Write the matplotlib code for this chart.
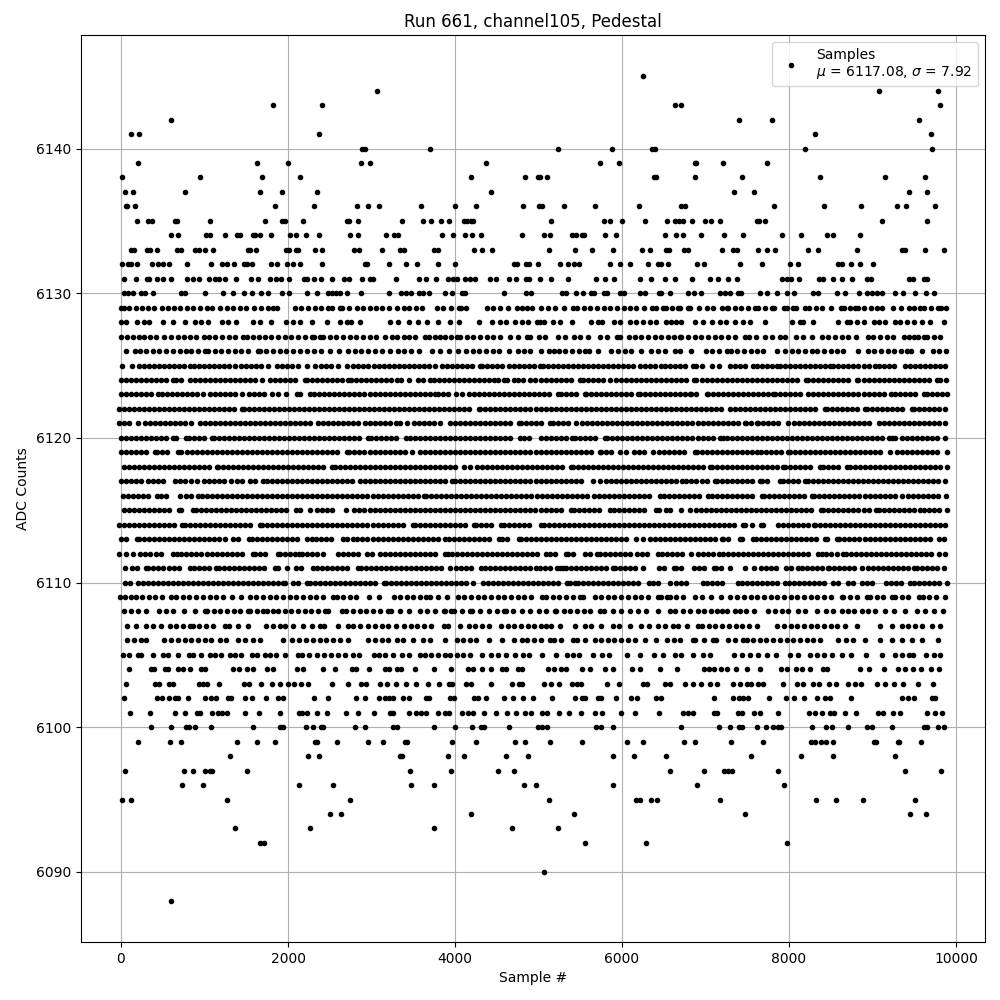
import matplotlib
matplotlib.use("Agg")
import matplotlib.pyplot as plt

title = "Run 661, channel105, Pedestal"
xlabel = "Sample #"
ylabel = "ADC Counts"
legend_label = "Samples\n$\\mu$ = 6117.08, $\\sigma$ = 7.92"

s6145 = [6252]
s6144 = [3068, 9072, 9780]
s6143 = [1820, 2408, 6636, 6708, 9804]
s6142 = [596, 7404, 7800, 9552]
s6141 = [116, 212, 2372, 8316, 9696]
s6140 = [2888, 2920, 3704, 5232, 5880, 6360, 6396, 8196, 9708]
s6139 = [200, 1628, 2000, 2876, 2984, 4376, 5736, 5964, 6876, 6888, 7212, 7740]
s6138 = [8, 944, 1688, 2144, 4196, 4844, 4988, 5016, 5100, 6384, 6408, 6876, 7440, 8376, 9144, 9624]
s6137 = [44, 140, 764, 1664, 1928, 2348, 4436, 7344, 7584, 9432, 9648]
s6136 = [56, 76, 164, 1844, 2312, 2828, 2960, 3092, 3596, 4004, 4256, 4820, 5004, 5040, 5304, 5676, 6204, 6708, 6756, 7824, 8424, 8868, 9288, 9396, 9744]
s6135 = [188, 320, 368, 644, 668, 1064, 1724, 1928, 1964, 2180, 2708, 2732, 2840, 3368, 3620, 3716, 3836, 3932, 4112, 4148, 4196, 4220, 5148, 5784, 5856, 6000, 6276, 6540, 6636, 6684, 6732, 6840, 6996, 7068, 7176, 7620, 7644, 7716, 9108, 9648]
s6134 = [596, 680, 1016, 1064, 1244, 1388, 1420, 1580, 1604, 1664, 1796, 2024, 2096, 2216, 2372, 2744, 2840, 3176, 3272, 3320, 3848, 3980, 4124, 4208, 4316, 4808, 5064, 5136, 5400, 5448, 5520, 5544, 5796, 5928, 6516, 6648, 6732, 6948, 7224, 7452, 7920, 8148, 8460, 8532, 8856]
s6133 = [116, 152, 308, 344, 428, 668, 716, 884, 932, 1004, 1100, 1520, 1544, 1616, 1976, 2012, 2096, 2120, 2324, 2408, 2792, 2852, 3128, 3344, 3392, 3752, 3800, 4232, 4328, 4448, 5124, 5436, 5640, 5892, 6240, 6336, 6528, 6564, 6744, 6792, 7200, 7332, 7380, 7632, 7740, 7836, 8232, 8352, 8820, 9348, 9384, 9624, 9852]
s6132 = [8, 80, 116, 188, 368, 440, 500, 572, 788, 1076, 1208, 1268, 1352, 1472, 1508, 1568, 1796, 1868, 1988, 2060, 2140, 2408, 2924, 2948, 3212, 3416, 3548, 3800, 4004, 4712, 4740, 4856, 4892, 4992, 5256, 5352, 5424, 5484, 5856, 5976, 6096, 6312, 6432, 6468, 6552, 6900, 6984, 7416, 7680, 8016, 8112, 8592, 8640, 8748, 8856, 9000]
s6131 = [32, 176, 308, 332, 428, 500, 596, 788, 860, 940, 1052, 1124, 1172, 1244, 1376, 1556, 1640, 1784, 1856, 1916, 2012, 2192, 2228, 2312, 2396, 2528, 2672, 2732, 2888, 2984, 3012, 3296, 3572, 3656, 3776, 3920, 3980, 4028, 4124, 4180, 4244, 4424, 4496, 4652, 4736, 4856, 4892, 5016, 5148, 5352, 5688, 5796, 5904, 6216, 6348, 6516, 6636, 6840, 7056, 7152, 7272, 7380, 7920, 7980, 8028, 8124, 8364, 8412, 8532, 8640, 8760, 8928, 8976, 9432, 9480, 9612, 9648]
s6130 = [32, 80, 140, 236, 284, 380, 716, 764, 1004, 1220, 1340, 1472, 1568, 1676, 1760, 1928, 2012, 2228, 2348, 2480, 2528, 2576, 2624, 2708, 2876, 3212, 3356, 3416, 3476, 3572, 3620, 3692, 3884, 3968, 4088, 4124, 4592, 4856, 4916, 5280, 5328, 5448, 5532, 5628, 5664, 5784, 5820, 5976, 6024, 6216, 6276, 6444, 6468, 6576, 6792, 6864, 6948, 7176, 7236, 7296, 7392, 7428, 7656, 7740, 7860, 7980, 8064, 8292, 8352, 8580, 8676, 8844, 8928, 8988, 9048, 9108, 9264, 9360, 9504, 9636, 9732]
s6129 = [0, 40, 96, 184, 250, 320, 400, 496, 564, 640, 710, 790, 860, 950, 1024, 1084, 1184, 1264, 1340, 1420, 1500, 1590, 1680, 1764, 1816, 1864, 2084, 2160, 2240, 2320, 2400, 2484, 2524, 2624, 2652, 2728, 2824, 2900, 2980, 3050, 3130, 3210, 3300, 3384, 3452, 3530, 3604, 3784, 3860, 3950, 4044, 4072, 4136, 4384, 4460, 4540, 4640, 4744, 4804, 4864, 4924, 5024, 5110, 5200, 5300, 5412, 5460, 5540, 5620, 5700, 5780, 5860, 5940, 6020, 6100, 6164, 6260, 6364, 6412, 6492, 6532, 6600, 6672, 6692, 6792, 6812, 6924, 7012, 7092, 7192, 7252, 7272, 7350, 7430, 7510, 7592, 7632, 7710, 7792, 7824, 7940, 7972, 8052, 8084, 8192, 8244, 8320, 8400, 8500, 8620, 8660, 8730, 8792, 8832, 8900, 8980, 9050, 9112, 9244, 9340, 9432, 9500, 9572, 9620, 9700, 9780, 9824, 9884]
s6128 = [0, 60, 192, 280, 340, 504, 624, 768, 884, 960, 1044, 1204, 1284, 1376, 1576, 1660, 1800, 1972, 2060, 2144, 2288, 2464, 2624, 2704, 2760, 2860, 3216, 3312, 3444, 3560, 3664, 3792, 3944, 4052, 4288, 4444, 4540, 4608, 4724, 4800, 4880, 4980, 5020, 5060, 5172, 5260, 5400, 5632, 5712, 5764, 5900, 5980, 6092, 6170, 6250, 6330, 6410, 6532, 6592, 6650, 6712, 6872, 6972, 7072, 7172, 7240, 7352, 7452, 7532, 7716, 8032, 8132, 8172, 8284, 8592, 8692, 8732, 8810, 8892, 9012, 9072, 9152, 9272, 9332, 9412, 9492, 9592, 9692, 9852]
s6127 = [0, 70, 140, 210, 280, 350, 416, 512, 604, 680, 760, 830, 904, 992, 1056, 1130, 1210, 1290, 1370, 1464, 1504, 1580, 1650, 1720, 1800, 1880, 1960, 2040, 2120, 2200, 2284, 2312, 2384, 2424, 2500, 2580, 2660, 2740, 2820, 2900, 2980, 3056, 3164, 3240, 3310, 3384, 3444, 3520, 3644, 3684, 3760, 3824, 3884, 3950, 4024, 4064, 4140, 4220, 4300, 4380, 4460, 4540, 4664, 4752, 4864, 4904, 5004, 5072, 5232, 5320, 5420, 5492, 5592, 5740, 5820, 5940, 5980, 6084, 6152, 6230, 6310, 6390, 6470, 6550, 6620, 6692, 6712, 6790, 6870, 6950, 7030, 7110, 7190, 7270, 7350, 7472, 7520, 7600, 7712, 7792, 7892, 7952, 8080, 8172, 8280, 8392, 8470, 8550, 8630, 8710, 8804, 8940, 9010, 9090, 9170, 9250, 9372, 9432, 9492, 9550, 9612, 9652, 9732, 9804]
s6126 = [64, 164, 224, 300, 380, 460, 540, 620, 704, 784, 844, 924, 1004, 1044, 1120, 1200, 1280, 1360, 1440, 1520, 1644, 1664, 1740, 1820, 1900, 1976, 2064, 2140, 2224, 2312, 2392, 2504, 2608, 2724, 2800, 2880, 2960, 3040, 3120, 3224, 3312, 3390, 3470, 3564, 3724, 3820, 3924, 4036, 4136, 4210, 4290, 4370, 4450, 4530, 4644, 4752, 4824, 4900, 5024, 5124, 5180, 5244, 5320, 5400, 5480, 5552, 5604, 5712, 5872, 5950, 6030, 6110, 6224, 6352, 6430, 6510, 6632, 6692, 6824, 7000, 7080, 7160, 7252, 7304, 7380, 7460, 7540, 7620, 7692, 7860, 7952, 8030, 8110, 8190, 8272, 8340, 8420, 8500, 8580, 8652, 8828, 8940, 9020, 9100, 9180, 9260, 9340, 9412, 9460, 9592, 9724, 9800, 9884]
s6125 = [16, 132, 216, 276, 336, 396, 456, 516, 576, 636, 696, 756, 824, 872, 932, 992, 1052, 1112, 1172, 1232, 1292, 1364, 1432, 1492, 1552, 1612, 1672, 1764, 1872, 1932, 1992, 2052, 2124, 2232, 2324, 2392, 2452, 2512, 2604, 2704, 2784, 2844, 2904, 2964, 3024, 3084, 3144, 3204, 3264, 3324, 3384, 3444, 3504, 3564, 3624, 3684, 3764, 3844, 3904, 3964, 4024, 4084, 4144, 4204, 4304, 4324, 4384, 4444, 4504, 4564, 4644, 4704, 4764, 4824, 4884, 4944, 5012, 5052, 5112, 5172, 5232, 5292, 5352, 5412, 5472, 5532, 5592, 5652, 5712, 5772, 5832, 5892, 5952, 6012, 6072, 6132, 6212, 6272, 6332, 6392, 6472, 6512, 6572, 6632, 6692, 6752, 6852, 6892, 6952, 7072, 7156, 7292, 7352, 7412, 7472, 7572, 7612, 7672, 7732, 7792, 7860, 7892, 7952, 8012, 8072, 8132, 8192, 8252, 8312, 8372, 8432, 8492, 8532, 8592, 8652, 8712, 8772, 8832, 8892, 8952, 9032, 9072, 9132, 9192, 9252, 9392, 9452, 9512, 9572, 9632, 9692, 9752, 9812, 9872]
s6124 = [0, 60, 120, 180, 240, 300, 360, 420, 480, 540, 624, 664, 724, 824, 884, 944, 1004, 1064, 1124, 1184, 1244, 1304, 1364, 1424, 1484, 1544, 1604, 1684, 1784, 1844, 1904, 1964, 2024, 2084, 2204, 2224, 2284, 2344, 2404, 2464, 2524, 2584, 2644, 2724, 2752, 2812, 2872, 2932, 2992, 3052, 3112, 3172, 3232, 3304, 3352, 3452, 3552, 3612, 3696, 3744, 3804, 3864, 3924, 3984, 4044, 4104, 4164, 4224, 4284, 4344, 4404, 4464, 4512, 4584, 4624, 4712, 4752, 4812, 4904, 4952, 5032, 5092, 5152, 5212, 5272, 5332, 5392, 5492, 5532, 5592, 5652, 5712, 5772, 5852, 5924, 5992, 6052, 6112, 6172, 6232, 6292, 6352, 6412, 6472, 6532, 6592, 6652, 6712, 6772, 6860, 6892, 6952, 7012, 7072, 7132, 7192, 7252, 7312, 7372, 7432, 7492, 7552, 7612, 7680, 7740, 7800, 7860, 7920, 7980, 8040, 8100, 8204, 8232, 8292, 8352, 8412, 8472, 8532, 8592, 8652, 8712, 8812, 8832, 8892, 8952, 9012, 9072, 9132, 9192, 9252, 9312, 9372, 9432, 9492, 9552, 9612, 9672, 9772, 9804, 9884]
s6123 = [0, 60, 120, 180, 240, 300, 360, 444, 492, 552, 612, 672, 732, 792, 852, 912, 984, 1064, 1124, 1184, 1244, 1304, 1364, 1444, 1536, 1596, 1656, 1716, 1804, 1884, 1972, 2104, 2144, 2264, 2312, 2376, 2436, 2496, 2556, 2616, 2676, 2736, 2796, 2856, 2916, 2976, 3036, 3096, 3156, 3216, 3276, 3336, 3396, 3456, 3516, 3576, 3636, 3696, 3764, 3792, 3852, 3912, 4016, 4088, 4164, 4224, 4284, 4344, 4404, 4464, 4524, 4584, 4644, 4704, 4764, 4824, 4884, 4944, 5004, 5064, 5124, 5232, 5268, 5324, 5384, 5444, 5552, 5564, 5624, 5684, 5744, 5804, 5864, 5924, 5984, 6044, 6104, 6192, 6212, 6272, 6332, 6392, 6452, 6512, 6572, 6632, 6692, 6752, 6812, 6832, 6892, 7012, 7032, 7092, 7152, 7212, 7272, 7332, 7392, 7452, 7512, 7572, 7632, 7692, 7752, 7812, 7832, 7892, 7952, 8012, 8072, 8132, 8232, 8292, 8352, 8412, 8472, 8532, 8592, 8652, 8712, 8772, 8832, 8892, 8952, 9012, 9072, 9132, 9220, 9272, 9332, 9392, 9452, 9512, 9612, 9652, 9712, 9772, 9832, 9892]
s6122 = [-24, 36, 96, 156, 216, 276, 336, 396, 456, 516, 576, 636, 696, 756, 816, 876, 936, 996, 1056, 1116, 1176, 1236, 1296, 1356, 1444, 1472, 1532, 1592, 1652, 1712, 1772, 1832, 1892, 1952, 2012, 2072, 2132, 2192, 2252, 2312, 2372, 2432, 2492, 2552, 2612, 2672, 2732, 2792, 2852, 2912, 2972, 3032, 3092, 3152, 3212, 3272, 3332, 3392, 3452, 3512, 3572, 3632, 3692, 3752, 3812, 3872, 3932, 3992, 4052, 4112, 4172, 4284, 4304, 4364, 4424, 4484, 4544, 4604, 4664, 4724, 4784, 4844, 4904, 4964, 5024, 5084, 5144, 5204, 5264, 5324, 5384, 5444, 5504, 5564, 5624, 5684, 5744, 5804, 5864, 5924, 5984, 6044, 6104, 6164, 6224, 6284, 6344, 6404, 6464, 6524, 6584, 6644, 6704, 6764, 6824, 6884, 6944, 7004, 7064, 7124, 7184, 7292, 7352, 7412, 7472, 7532, 7592, 7652, 7712, 7772, 7832, 7892, 7952, 8012, 8072, 8132, 8192, 8252, 8312, 8432, 8460, 8520, 8580, 8640, 8700, 8760, 8820, 8912, 8932, 8992, 9052, 9112, 9172, 9232, 9292, 9352, 9472, 9500, 9560, 9620, 9680, 9740, 9800, 9872]
s6121 = [-24, 36, 96, 204, 284, 344, 404, 464, 524, 584, 644, 704, 764, 836, 944, 1004, 1064, 1124, 1184, 1244, 1304, 1364, 1424, 1484, 1544, 1604, 1664, 1724, 1784, 1844, 1904, 1964, 2024, 2084, 2144, 2204, 2264, 2364, 2424, 2484, 2544, 2604, 2664, 2724, 2784, 2844, 2924, 2976, 3036, 3096, 3156, 3216, 3296, 3344, 3424, 3504, 3564, 3624, 3684, 3744, 3824, 3944, 4004, 4064, 4124, 4184, 4244, 4304, 4364, 4424, 4484, 4544, 4604, 4664, 4764, 4792, 4852, 4912, 4972, 5032, 5132, 5172, 5232, 5292, 5352, 5444, 5524, 5584, 5644, 5704, 5764, 5824, 5884, 5944, 6004, 6064, 6124, 6184, 6244, 6304, 6364, 6424, 6484, 6544, 6604, 6664, 6724, 6784, 6844, 6904, 6964, 7024, 7084, 7144, 7204, 7264, 7324, 7384, 7472, 7484, 7544, 7612, 7632, 7692, 7752, 7812, 7872, 7992, 8060, 8120, 8180, 8240, 8300, 8360, 8420, 8480, 8540, 8600, 8660, 8720, 8780, 8840, 8900, 8960, 9072, 9140, 9200, 9260, 9320, 9380, 9440, 9500, 9560, 9620, 9680, 9740, 9800, 9872]
s6120 = [0, 60, 120, 180, 240, 300, 360, 420, 480, 540, 624, 656, 776, 812, 872, 932, 992, 1084, 1112, 1172, 1232, 1292, 1352, 1412, 1472, 1532, 1592, 1652, 1712, 1772, 1832, 1892, 1952, 2012, 2072, 2132, 2192, 2252, 2312, 2372, 2432, 2492, 2552, 2612, 2672, 2732, 2792, 2852, 2964, 2992, 3052, 3112, 3172, 3232, 3292, 3412, 3464, 3524, 3584, 3644, 3704, 3764, 3824, 3884, 3944, 4004, 4064, 4124, 4184, 4244, 4304, 4364, 4424, 4484, 4544, 4604, 4664, 4776, 4824, 4884, 5024, 5084, 5144, 5204, 5264, 5324, 5404, 5440, 5500, 5560, 5620, 5680, 5792, 5824, 5884, 5944, 6004, 6064, 6124, 6184, 6244, 6304, 6364, 6424, 6484, 6544, 6604, 6664, 6724, 6784, 6844, 6904, 6964, 7024, 7084, 7172, 7204, 7252, 7312, 7372, 7432, 7492, 7552, 7612, 7672, 7732, 7792, 7852, 7912, 7972, 8032, 8092, 8152, 8212, 8272, 8332, 8392, 8452, 8512, 8572, 8632, 8692, 8752, 8812, 8872, 8932, 8992, 9052, 9112, 9192, 9232, 9272, 9352, 9412, 9472, 9532, 9592, 9652, 9712, 9772, 9872]
s6119 = [0, 60, 120, 180, 240, 300, 404, 432, 492, 552, 684, 724, 792, 852, 912, 972, 1032, 1092, 1152, 1212, 1272, 1332, 1392, 1452, 1512, 1572, 1632, 1692, 1752, 1812, 1872, 1932, 1992, 2052, 2112, 2172, 2232, 2292, 2352, 2412, 2472, 2532, 2592, 2704, 2736, 2796, 2856, 2916, 2976, 3036, 3096, 3156, 3216, 3276, 3336, 3396, 3484, 3584, 3644, 3704, 3764, 3824, 3884, 3944, 4004, 4064, 4124, 4184, 4244, 4304, 4364, 4424, 4484, 4544, 4604, 4664, 4724, 4784, 4844, 4904, 4964, 5024, 5084, 5144, 5204, 5264, 5324, 5384, 5444, 5504, 5564, 5624, 5732, 5752, 5812, 5872, 5972, 6044, 6144, 6204, 6264, 6372, 6444, 6504, 6564, 6624, 6684, 6744, 6872, 6900, 6960, 7020, 7080, 7140, 7200, 7260, 7320, 7380, 7440, 7500, 7560, 7620, 7660, 7720, 7780, 7840, 7900, 7992, 8012, 8072, 8132, 8192, 8252, 8312, 8372, 8432, 8492, 8552, 8612, 8672, 8732, 8792, 8852, 8912, 8972, 9032, 9092, 9212, 9292, 9352, 9412, 9472, 9532, 9592, 9652, 9712, 9772, 9892]
s6118 = [32, 92, 152, 212, 272, 332, 392, 452, 512, 572, 632, 692, 752, 812, 872, 932, 992, 1052, 1144, 1164, 1224, 1284, 1344, 1404, 1464, 1524, 1584, 1644, 1704, 1764, 1824, 1884, 1944, 2004, 2064, 2124, 2184, 2244, 2304, 2364, 2424, 2524, 2564, 2624, 2684, 2744, 2804, 2864, 2924, 2984, 3044, 3104, 3164, 3224, 3284, 3344, 3404, 3464, 3524, 3584, 3644, 3704, 3764, 3824, 3884, 3944, 4004, 4112, 4184, 4264, 4324, 4384, 4444, 4504, 4564, 4624, 4684, 4744, 4804, 4864, 4924, 4984, 5044, 5104, 5164, 5224, 5284, 5392, 5412, 5472, 5532, 5592, 5652, 5712, 5772, 5832, 5892, 5952, 6012, 6072, 6132, 6192, 6252, 6312, 6372, 6432, 6492, 6552, 6612, 6672, 6732, 6792, 6852, 6912, 6972, 7052, 7072, 7132, 7192, 7252, 7312, 7372, 7432, 7492, 7552, 7612, 7672, 7732, 7792, 7852, 7932, 7952, 8012, 8072, 8132, 8192, 8252, 8372, 8404, 8464, 8524, 8584, 8692, 8732, 8792, 8852, 8912, 8972, 9032, 9092, 9152, 9212, 9272, 9332, 9392, 9452, 9512, 9572, 9632, 9692, 9752, 9812, 9892]
s6117 = [4, 64, 124, 184, 244, 324, 384, 444, 504, 644, 704, 764, 844, 912, 992, 1052, 1112, 1172, 1232, 1312, 1384, 1444, 1544, 1604, 1704, 1752, 1812, 1872, 1932, 1992, 2052, 2112, 2172, 2232, 2292, 2352, 2412, 2472, 2532, 2592, 2652, 2712, 2772, 2864, 2924, 2984, 3044, 3104, 3164, 3224, 3284, 3344, 3404, 3464, 3524, 3584, 3644, 3704, 3764, 3824, 3884, 3964, 4004, 4064, 4124, 4184, 4244, 4304, 4364, 4424, 4484, 4544, 4604, 4664, 4724, 4784, 4844, 4904, 4964, 5024, 5084, 5144, 5204, 5264, 5324, 5384, 5444, 5504, 5652, 5732, 5812, 5872, 5932, 5992, 6052, 6112, 6172, 6232, 6292, 6352, 6412, 6472, 6532, 6592, 6652, 6724, 6772, 6832, 6892, 6952, 7012, 7112, 7132, 7192, 7252, 7312, 7372, 7432, 7492, 7552, 7652, 7680, 7740, 7892, 7932, 7992, 8052, 8112, 8192, 8224, 8284, 8344, 8404, 8464, 8524, 8584, 8644, 8704, 8764, 8824, 8884, 8944, 9004, 9064, 9124, 9184, 9244, 9304, 9364, 9424, 9484, 9544, 9604, 9664, 9724, 9784, 9864]
s6116 = [24, 84, 144, 204, 264, 324, 432, 484, 544, 704, 776, 836, 924, 972, 1032, 1092, 1152, 1212, 1272, 1332, 1392, 1452, 1512, 1572, 1632, 1692, 1752, 1812, 1872, 1932, 1992, 2052, 2112, 2172, 2232, 2292, 2352, 2412, 2472, 2532, 2592, 2652, 2712, 2772, 2832, 2892, 2952, 3012, 3072, 3132, 3192, 3252, 3312, 3372, 3432, 3492, 3552, 3624, 3656, 3716, 3776, 3836, 3896, 3956, 4016, 4076, 4136, 4196, 4256, 4316, 4376, 4436, 4496, 4556, 4616, 4676, 4736, 4796, 4856, 4916, 4976, 5036, 5096, 5156, 5216, 5276, 5336, 5396, 5456, 5516, 5576, 5660, 5724, 5784, 5844, 5904, 5964, 6024, 6084, 6144, 6204, 6264, 6324, 6460, 6504, 6564, 6624, 6684, 6744, 6804, 6864, 6924, 7032, 7072, 7132, 7192, 7252, 7312, 7372, 7432, 7492, 7552, 7672, 7704, 7764, 7824, 7884, 7944, 8004, 8064, 8124, 8184, 8272, 8304, 8364, 8424, 8484, 8544, 8604, 8664, 8724, 8784, 8844, 8904, 8964, 9024, 9084, 9144, 9204, 9264, 9352, 9420, 9480, 9540, 9600, 9660, 9720, 9780, 9884]
s6115 = [32, 92, 152, 212, 272, 332, 392, 452, 512, 572, 696, 724, 864, 896, 956, 1016, 1076, 1136, 1196, 1256, 1316, 1376, 1436, 1496, 1556, 1616, 1676, 1736, 1796, 1856, 1916, 1976, 2096, 2144, 2264, 2344, 2404, 2464, 2524, 2696, 2792, 2856, 2916, 2976, 3036, 3096, 3156, 3216, 3276, 3336, 3396, 3456, 3516, 3576, 3636, 3696, 3756, 3816, 3876, 3936, 3996, 4056, 4116, 4176, 4236, 4296, 4356, 4416, 4476, 4536, 4596, 4656, 4716, 4776, 4836, 4896, 4956, 5024, 5084, 5144, 5204, 5264, 5392, 5420, 5480, 5540, 5600, 5660, 5720, 5852, 5900, 5960, 6020, 6080, 6140, 6200, 6260, 6412, 6444, 6532, 6572, 6712, 6812, 6884, 6944, 7004, 7064, 7124, 7184, 7244, 7304, 7364, 7424, 7484, 7544, 7604, 7664, 7724, 7784, 7844, 7904, 7964, 8024, 8084, 8144, 8204, 8264, 8380, 8412, 8472, 8532, 8592, 8652, 8712, 8772, 8832, 8892, 8952, 9040, 9072, 9132, 9192, 9252, 9312, 9372, 9432, 9492, 9572, 9612, 9672, 9732, 9792, 9892]
s6114 = [-24, 36, 96, 156, 216, 276, 336, 396, 456, 516, 576, 636, 736, 768, 828, 888, 948, 1008, 1068, 1128, 1188, 1248, 1308, 1368, 1428, 1488, 1548, 1664, 1692, 1752, 1812, 1872, 1932, 1992, 2052, 2112, 2172, 2232, 2292, 2352, 2412, 2472, 2532, 2592, 2652, 2712, 2772, 2832, 2892, 2952, 3012, 3072, 3132, 3192, 3252, 3312, 3372, 3496, 3524, 3584, 3644, 3704, 3764, 3824, 3884, 3944, 4004, 4064, 4124, 4232, 4256, 4316, 4376, 4436, 4552, 4584, 4644, 4704, 4764, 4824, 4884, 5032, 5060, 5120, 5180, 5240, 5300, 5360, 5420, 5480, 5540, 5600, 5660, 5720, 5780, 5840, 5900, 5960, 6020, 6080, 6140, 6200, 6260, 6320, 6380, 6440, 6500, 6560, 6620, 6680, 6740, 6800, 6860, 6920, 6980, 7040, 7100, 7160, 7220, 7280, 7340, 7452, 7472, 7560, 7660, 7692, 7872, 7932, 7984, 8044, 8104, 8164, 8224, 8300, 8312, 8372, 8432, 8492, 8552, 8612, 8672, 8732, 8792, 8852, 8912, 8972, 9032, 9092, 9152, 9212, 9272, 9332, 9392, 9452, 9512, 9572, 9632, 9692, 9752, 9812, 9872]
s6113 = [0, 60, 192, 216, 276, 336, 396, 456, 516, 576, 636, 696, 756, 816, 876, 936, 996, 1056, 1116, 1176, 1244, 1344, 1404, 1532, 1564, 1624, 1684, 1744, 1804, 1864, 1924, 1984, 2044, 2104, 2224, 2292, 2336, 2396, 2456, 2516, 2664, 2704, 2784, 2832, 2892, 2952, 3012, 3072, 3132, 3192, 3252, 3312, 3372, 3432, 3492, 3552, 3612, 3672, 3732, 3792, 3876, 3924, 3984, 4044, 4104, 4164, 4224, 4284, 4344, 4404, 4524, 4564, 4624, 4764, 4792, 4852, 4912, 4972, 5032, 5092, 5152, 5212, 5272, 5332, 5392, 5452, 5512, 5572, 5632, 5692, 5752, 5812, 5872, 5932, 5992, 6052, 6172, 6252, 6332, 6392, 6452, 6512, 6572, 6632, 6692, 6752, 6812, 6872, 6932, 6992, 7052, 7112, 7192, 7212, 7272, 7412, 7432, 7572, 7600, 7660, 7720, 7780, 7840, 7900, 7960, 8020, 8080, 8140, 8200, 8260, 8320, 8432, 8452, 8572, 8604, 8664, 8724, 8784, 8844, 8904, 8964, 9024, 9084, 9144, 9204, 9264, 9324, 9384, 9444, 9504, 9564, 9624, 9684, 9792, 9852]
s6112 = [-24, 64, 144, 224, 284, 352, 424, 484, 624, 672, 724, 784, 844, 904, 964, 1024, 1084, 1144, 1204, 1264, 1324, 1384, 1444, 1576, 1604, 1664, 1724, 1884, 1904, 1964, 2024, 2084, 2136, 2164, 2224, 2284, 2344, 2424, 2604, 2664, 2724, 2784, 2844, 2944, 3004, 3096, 3164, 3224, 3284, 3344, 3404, 3464, 3524, 3584, 3644, 3704, 3764, 3884, 3912, 3964, 4024, 4084, 4144, 4204, 4264, 4324, 4384, 4444, 4504, 4564, 4624, 4684, 4744, 4804, 4864, 4924, 4984, 5084, 5132, 5192, 5324, 5352, 5412, 5552, 5620, 5700, 5732, 5792, 5852, 5912, 5972, 6032, 6092, 6180, 6244, 6304, 6432, 6480, 6540, 6600, 6660, 6720, 6832, 6904, 6964, 7024, 7092, 7164, 7212, 7272, 7332, 7392, 7452, 7512, 7572, 7632, 7692, 7752, 7812, 7872, 7932, 7992, 8052, 8112, 8172, 8232, 8352, 8392, 8444, 8504, 8580, 8644, 8684, 8744, 8804, 8864, 8924, 8984, 9044, 9104, 9164, 9224, 9284, 9344, 9404, 9464, 9524, 9584, 9644, 9704, 9792, 9864]
s6111 = [52, 136, 196, 296, 324, 384, 444, 504, 576, 636, 696, 824, 872, 932, 992, 1052, 1136, 1168, 1228, 1288, 1348, 1408, 1468, 1528, 1588, 1648, 1708, 1844, 1884, 1992, 2096, 2156, 2304, 2344, 2404, 2464, 2524, 2584, 2644, 2704, 2844, 2872, 2932, 2992, 3052, 3112, 3172, 3232, 3292, 3352, 3412, 3472, 3532, 3592, 3652, 3712, 3772, 3832, 3936, 4016, 4076, 4136, 4196, 4312, 4364, 4424, 4484, 4544, 4604, 4664, 4724, 4784, 4844, 4904, 4972, 5012, 5072, 5132, 5220, 5252, 5292, 5324, 5384, 5444, 5504, 5564, 5624, 5684, 5744, 5804, 5892, 5912, 5972, 6032, 6092, 6152, 6252, 6444, 6504, 6620, 6652, 6712, 6860, 6924, 6984, 7100, 7124, 7184, 7292, 7472, 7580, 7664, 7724, 7784, 7844, 7964, 8020, 8112, 8152, 8212, 8272, 8332, 8392, 8472, 8484, 8544, 8604, 8664, 8724, 8784, 8872, 8940, 9000, 9060, 9120, 9180, 9240, 9300, 9360, 9420, 9492, 9532, 9592, 9652, 9712, 9772, 9860]
s6110 = [52, 112, 204, 264, 324, 384, 444, 504, 564, 624, 684, 744, 804, 864, 924, 984, 1044, 1104, 1164, 1224, 1284, 1344, 1404, 1464, 1524, 1584, 1644, 1704, 1764, 1824, 1884, 1944, 1964, 2056, 2116, 2224, 2264, 2324, 2384, 2444, 2504, 2564, 2624, 2684, 2744, 2804, 2864, 2924, 2984, 3044, 3144, 3176, 3236, 3296, 3356, 3416, 3476, 3536, 3596, 3656, 3716, 3776, 3836, 3896, 3956, 4016, 4076, 4136, 4216, 4336, 4396, 4456, 4516, 4576, 4636, 4696, 4756, 4816, 4876, 4936, 4996, 5056, 5116, 5176, 5236, 5340, 5380, 5432, 5472, 5532, 5592, 5652, 5712, 5772, 5832, 5892, 5952, 6012, 6072, 6132, 6192, 6324, 6372, 6432, 6572, 6652, 6712, 6772, 6964, 7012, 7072, 7132, 7192, 7392, 7440, 7500, 7560, 7620, 7680, 7740, 7800, 7860, 7952, 8004, 8064, 8124, 8184, 8244, 8304, 8364, 8424, 8532, 8592, 8712, 8772, 8872, 8932, 8992, 9164, 9220, 9280, 9340, 9452, 9492, 9552, 9612, 9672, 9732, 9792, 9892]
s6109 = [-16, 50, 124, 176, 250, 330, 410, 490, 596, 664, 740, 820, 900, 980, 1060, 1140, 1220, 1324, 1432, 1544, 1620, 1700, 1780, 1860, 1940, 2020, 2100, 2180, 2260, 2340, 2420, 2536, 2584, 2660, 2740, 2820, 2972, 3084, 3264, 3340, 3420, 3500, 3580, 3656, 3696, 3800, 3904, 4032, 4110, 4190, 4270, 4350, 4430, 4510, 4590, 4670, 4750, 4830, 4910, 5044, 5092, 5170, 5250, 5330, 5410, 5492, 5532, 5672, 5752, 5830, 5910, 5990, 6070, 6150, 6230, 6310, 6432, 6464, 6540, 6572, 6650, 6730, 6872, 6952, 7060, 7180, 7292, 7380, 7460, 7540, 7620, 7700, 7780, 7860, 7940, 8020, 8100, 8180, 8260, 8340, 8420, 8500, 8632, 8652, 8730, 8810, 8932, 8972, 9050, 9130, 9232, 9268, 9350, 9430, 9552, 9604, 9680, 9760, 9872]
s6108 = [32, 116, 204, 296, 456, 544, 620, 752, 884, 1004, 1032, 1110, 1190, 1270, 1350, 1430, 1524, 1544, 1624, 1704, 1744, 1824, 1884, 1964, 2040, 2120, 2200, 2280, 2360, 2444, 2484, 2644, 2696, 2780, 2860, 2940, 3020, 3100, 3192, 3232, 3344, 3444, 3584, 3664, 3760, 3864, 3884, 3952, 3984, 4080, 4184, 4204, 4300, 4404, 4504, 4584, 4616, 4700, 4804, 4896, 5004, 5090, 5192, 5212, 5300, 5380, 5460, 5540, 5620, 5732, 5780, 5892, 5992, 6092, 6190, 6292, 6432, 6572, 6640, 6732, 6812, 6912, 6980, 7060, 7132, 7192, 7252, 7352, 7412, 7484, 7580, 7752, 7830, 7910, 7990, 8112, 8192, 8340, 8444, 8532, 8632, 8712, 8780, 8872, 8950, 9030, 9152, 9252, 9392, 9532, 9630, 9732, 9844]
s6107 = [72, 176, 304, 384, 484, 592, 660, 740, 824, 864, 940, 1020, 1100, 1244, 1296, 1400, 1524, 1736, 1820, 1904, 1964, 2056, 2184, 2290, 2384, 2432, 2604, 2724, 2784, 2864, 2964, 3040, 3120, 3200, 3296, 3392, 3472, 3550, 3630, 3710, 3864, 3912, 4064, 4164, 4240, 4320, 4404, 4552, 4630, 4710, 4790, 4870, 4950, 5024, 5092, 5152, 5252, 5432, 5552, 5632, 5750, 5892, 5964, 6100, 6224, 6324, 6432, 6520, 6612, 6672, 6780, 6904, 6960, 7044, 7112, 7200, 7280, 7360, 7440, 7520, 7612, 7860, 7940, 8020, 8100, 8180, 8260, 8340, 8420, 8500, 8580, 8672, 8820, 9092, 9232, 9352, 9430, 9510, 9590, 9712, 9804]
s6106 = [72, 160, 240, 304, 512, 600, 684, 764, 840, 920, 1000, 1080, 1184, 1256, 1404, 1490, 1576, 1664, 1936, 2044, 2130, 2220, 2304, 2384, 2460, 2540, 2620, 2724, 2964, 3040, 3120, 3200, 3304, 3376, 3496, 3612, 3704, 3876, 4024, 4100, 4180, 4256, 4404, 4564, 4704, 4804, 4864, 4940, 5024, 5132, 5184, 5272, 5412, 5464, 5560, 5672, 5752, 5830, 5910, 5990, 6070, 6150, 6272, 6412, 6540, 6620, 6700, 6852, 6872, 6980, 7084, 7124, 7272, 7352, 7452, 7492, 7570, 7650, 7730, 7810, 7890, 7970, 8050, 8130, 8210, 8290, 8372, 8592, 8680, 8772, 8904, 9092, 9232, 9352, 9470, 9592, 9780]
s6105 = [20, 92, 200, 236, 380, 500, 560, 680, 812, 860, 956, 1064, 1124, 1196, 1304, 1364, 1436, 1568, 1628, 1724, 1784, 1856, 1964, 2120, 2168, 2252, 2348, 2432, 2516, 2600, 2684, 2780, 2852, 3032, 3092, 3164, 3260, 3368, 3452, 3584, 3644, 3716, 3800, 3884, 3944, 4028, 4100, 4184, 4328, 4436, 4520, 4616, 4724, 4820, 4892, 5040, 5208, 5340, 5412, 5484, 5652, 5760, 5844, 6060, 6216, 6384, 6492, 6636, 6712, 6852, 6972, 7056, 7344, 7440, 7536, 7632, 7740, 7848, 8016, 8112, 8256, 8340, 8424, 8520, 8640, 8748, 8916, 9108, 9264, 9348, 9432, 9480, 9636, 9732, 9804]
s6104 = [92, 356, 392, 524, 560, 680, 740, 824, 956, 1004, 1340, 1412, 1508, 1580, 1748, 1820, 2108, 2180, 2420, 2564, 2768, 2816, 2972, 3164, 3212, 3308, 3356, 3524, 3752, 3956, 4160, 4220, 4328, 4436, 4568, 4616, 4760, 4808, 5112, 5184, 5268, 5328, 5520, 5616, 5796, 5892, 6120, 6216, 6456, 6660, 6984, 7044, 7104, 7188, 7260, 7368, 7500, 7656, 7908, 7980, 8088, 8160, 8256, 8412, 8460, 8856, 8952, 9132, 9300, 9384, 9480, 9576, 9696, 9792]
s6103 = [64, 404, 452, 572, 620, 932, 980, 1028, 1172, 1472, 1532, 1676, 1808, 1904, 2000, 2072, 2156, 2240, 2528, 2720, 2876, 2936, 3104, 3188, 3296, 3416, 3536, 3680, 3812, 3932, 3968, 4136, 4196, 4436, 4688, 4772, 4808, 5064, 5148, 5244, 5400, 5460, 5508, 5820, 5964, 6252, 6300, 6516, 6576, 6756, 6852, 6948, 7056, 7140, 7332, 7416, 7500, 7548, 7632, 7692, 7928, 8100, 8172, 8292, 8364, 8484, 8568, 8712, 8796, 8868, 9048, 9144, 9252, 9360, 9540, 9720]
s6102 = [32, 428, 488, 572, 644, 680, 800, 1004, 1076, 1136, 1280, 1316, 1484, 1568, 1736, 1880, 1940, 2312, 2480, 2816, 2924, 3092, 3164, 3212, 3260, 3380, 3452, 3656, 3692, 3944, 3992, 4232, 4280, 4376, 4592, 4700, 4820, 4932, 5160, 5436, 5520, 5556, 5712, 5748, 5928, 6108, 6180, 6408, 6468, 7104, 7332, 7404, 7452, 7512, 7764, 7968, 8064, 8184, 8340, 8436, 8496, 8748, 9348, 9420, 9492, 9708, 9744]
s6101 = [104, 344, 644, 764, 908, 944, 1088, 1160, 1208, 1268, 1484, 1652, 1904, 2132, 2168, 2228, 2348, 2468, 2696, 2840, 3032, 3224, 3260, 3452, 3536, 3596, 3656, 3800, 3884, 3932, 4088, 4160, 4220, 4352, 4496, 4628, 4736, 4844, 4908, 5040, 5100, 5244, 5364, 5512, 5676, 5760, 5988, 6156, 6444, 6732, 6792, 6852, 7104, 7140, 7392, 7440, 7584, 7656, 7872, 8244, 8316, 8400, 8496, 8544, 8676, 8808, 9060, 9120, 9240, 9324, 9648, 9744, 9828]
s6100 = [356, 596, 776, 812, 884, 1076, 1580, 1904, 1940, 2216, 2300, 2396, 2420, 2804, 2924, 3260, 3308, 3752, 4004, 4208, 4316, 4348, 4652, 4988, 5040, 5100, 5688, 5748, 5892, 6708, 7164, 7296, 7404, 7440, 7620, 7728, 7812, 7872, 7908, 8280, 8448, 8520, 8712, 8928, 8988, 9228, 9612, 9648, 9780, 9852]
s6099 = [200, 584, 716, 1388, 1628, 1844, 2324, 2348, 2588, 2960, 3140, 3404, 3428, 3968, 4256, 4724, 4844, 5136, 5520, 6060, 6252, 6744, 6876, 7308, 7692, 8268, 8316, 8388, 8448, 8532, 9012, 9036, 9300, 9312, 9576]
s6098 = [1304, 2240, 2372, 3344, 3368, 3920, 4112, 4616, 4880, 5892, 6144, 6528, 7548, 8148, 8532, 9264]
s6097 = [44, 752, 860, 1004, 1064, 1088, 1508, 3464, 3956, 4520, 4712, 6576, 6984, 7224, 7272, 7320, 7872, 9384, 9816]
s6096 = [728, 980, 2132, 2540, 3476, 3752, 4824, 4964, 5892, 6900, 7944]
s6095 = [8, 116, 1268, 2744, 5124, 6168, 6216, 6348, 6420, 7176, 8328, 8568, 8880, 9504]
s6094 = [2504, 2636, 4196, 5424, 7476, 9444, 9636]
s6093 = [1364, 2264, 3752, 4688, 5232]
s6092 = [1664, 1712, 5556, 6288, 7980]
s6090 = [5064]
s6088 = [596]

rows = {
    6145: s6145, 6144: s6144, 6143: s6143, 6142: s6142, 6141: s6141, 6140: s6140,
    6139: s6139, 6138: s6138, 6137: s6137, 6136: s6136, 6135: s6135, 6134: s6134,
    6133: s6133, 6132: s6132, 6131: s6131, 6130: s6130, 6129: s6129, 6128: s6128,
    6127: s6127, 6126: s6126, 6125: s6125, 6124: s6124, 6123: s6123, 6122: s6122,
    6121: s6121, 6120: s6120, 6119: s6119, 6118: s6118, 6117: s6117, 6116: s6116,
    6115: s6115, 6114: s6114, 6113: s6113, 6112: s6112, 6111: s6111, 6110: s6110,
    6109: s6109, 6108: s6108, 6107: s6107, 6106: s6106, 6105: s6105, 6104: s6104,
    6103: s6103, 6102: s6102, 6101: s6101, 6100: s6100, 6099: s6099, 6098: s6098,
    6097: s6097, 6096: s6096, 6095: s6095, 6094: s6094, 6093: s6093, 6092: s6092,
    6090: s6090, 6088: s6088,
}

samples, counts = [], []
for level, xs in rows.items():
    samples.extend(xs)
    counts.extend([level] * len(xs))

fig, ax = plt.subplots(figsize=(10, 10), dpi=100)
ax.plot(samples, counts, "k.", label=legend_label)
ax.set_xlim(-479, 10347)
ax.set_ylim(6085.15, 6147.85)
ax.set_title(title)
ax.set_xlabel(xlabel)
ax.set_ylabel(ylabel)
ax.grid(True)
ax.legend(loc="upper right")
fig.subplots_adjust(left=0.081, right=0.985, top=0.965, bottom=0.058)
fig.savefig("out.png", dpi=100)
